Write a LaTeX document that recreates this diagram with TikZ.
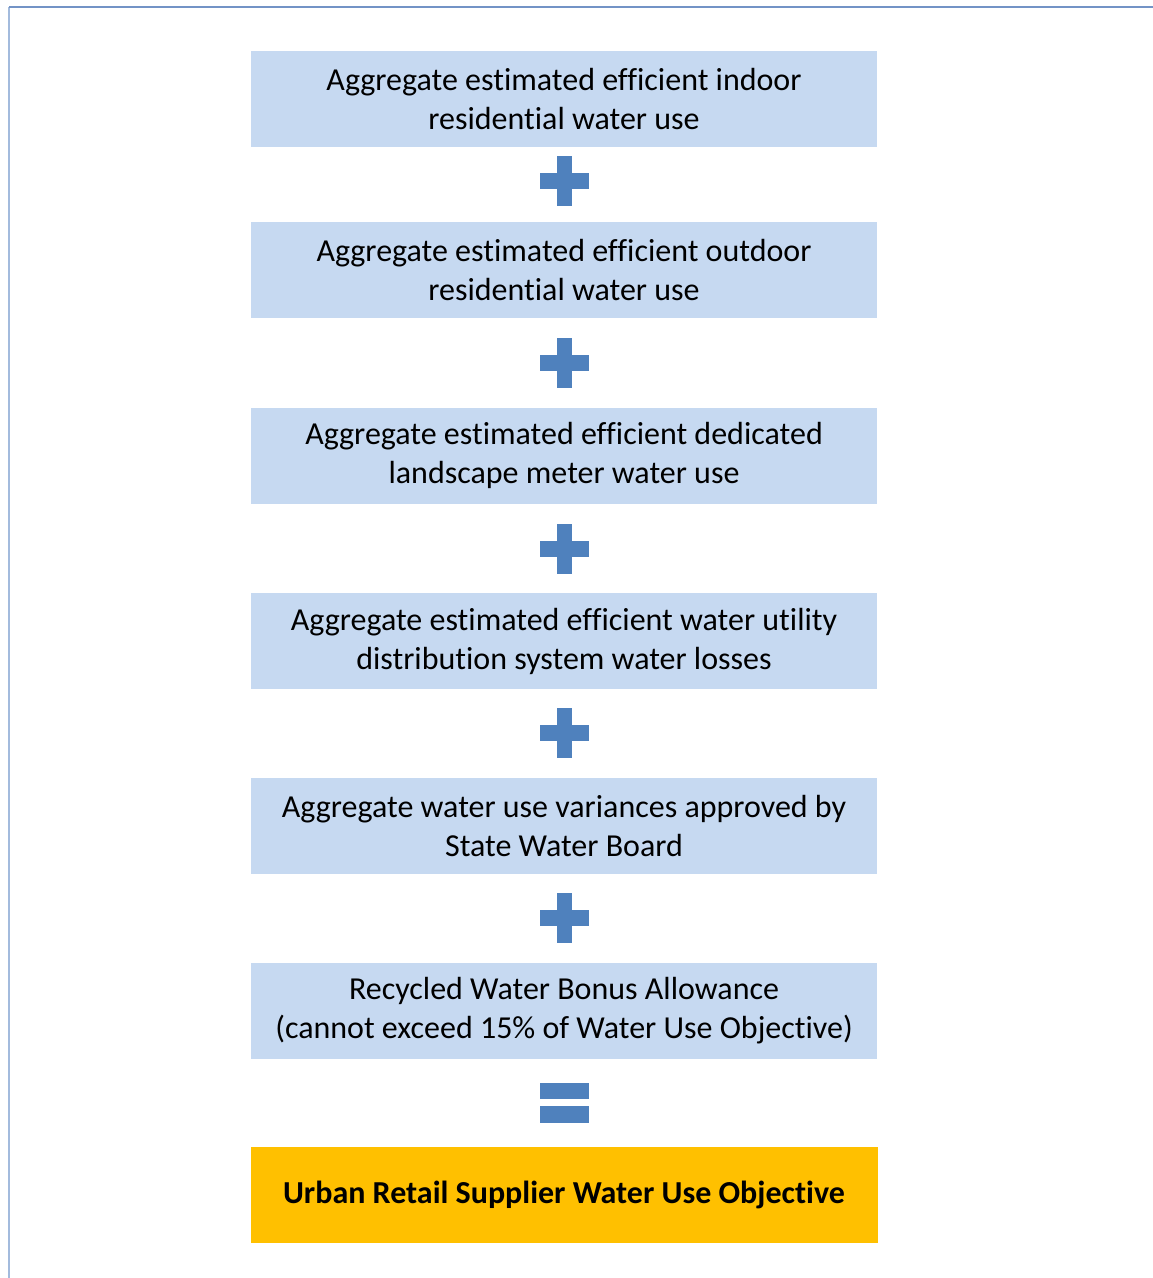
\documentclass[tikz,border=0pt]{standalone}
\usepackage{fontspec}
\setmainfont{Carlito}[Ligatures=NoCommon]
\definecolor{boxBlue}{HTML}{C6D9F1}
\definecolor{signBlue}{HTML}{4F81BD}
\definecolor{goalOrange}{HTML}{FFC000}
\definecolor{frameTop}{HTML}{7393C6}
\definecolor{frameLeft}{HTML}{A3BBDD}
\usetikzlibrary{positioning, calc}

\begin{document}
\begin{tikzpicture}[
  x=1pt, y=-1pt, node distance=89pt,
  stepbox/.style={fill=boxBlue, minimum width=626pt, minimum height=96pt,
    inner sep=0pt, align=center, font=\fontsize{32}{39}\selectfont},
  goalbox/.style={stepbox, fill=goalOrange, minimum width=627pt,
    font=\fontsize{32}{39}\selectfont\bfseries}]
  \useasboundingbox (0,0) rectangle (1153,1278);
  % Frame
  \draw[frameLeft, line width=1.6pt] (9,7) -- (9,1278);
  \draw[frameTop, line width=1.4pt] (9,7) -- (1153,7);
  % Boxes
  \node[stepbox] (indoor) at (564,99)
    {Aggregate estimated efficient indoor\\residential water use};
  \node[stepbox, below=75pt of indoor] (outdoor)
    {Aggregate estimated efficient outdoor\\residential water use};
  \node[stepbox, below=of outdoor] (landscape)
    {Aggregate estimated efficient dedicated\\landscape meter water use};
  \node[stepbox, below=of landscape] (losses)
    {Aggregate estimated efficient water utility\\distribution system water losses};
  \node[stepbox, below=88pt of losses] (variances)
    {Aggregate water use variances approved by\\State Water Board};
  \node[stepbox, below=of variances] (recycled)
    {Recycled Water Bonus Allowance\\(cannot exceed 15\% of Water Use Objective)};
  \node[goalbox, below=88pt of recycled] (objective)
    {Urban Retail Supplier Water Use Objective};
  % Plus signs
  \foreach \a/\b/\f in {indoor/outdoor/0.45, outdoor/landscape/0.5,
                        landscape/losses/0.5, losses/variances/0.5,
                        variances/recycled/0.5} {
    \coordinate (m) at ($(\a.south)!\f!(\b.north)$);
    \fill[signBlue] ($(m)+(-24.5,-8)$) rectangle ($(m)+(24.5,8)$);
    \fill[signBlue] ($(m)+(-7.5,-25)$) rectangle ($(m)+(7.5,25)$);
  }
  % Equals sign
  \coordinate (eq) at ($(recycled.south)!0.5!(objective.north)$);
  \fill[signBlue] ($(eq)+(-24.5,-20)$) rectangle ($(eq)+(24.5,-4)$);
  \fill[signBlue] ($(eq)+(-24.5,3)$) rectangle ($(eq)+(24.5,20)$);
\end{tikzpicture}
\end{document}
